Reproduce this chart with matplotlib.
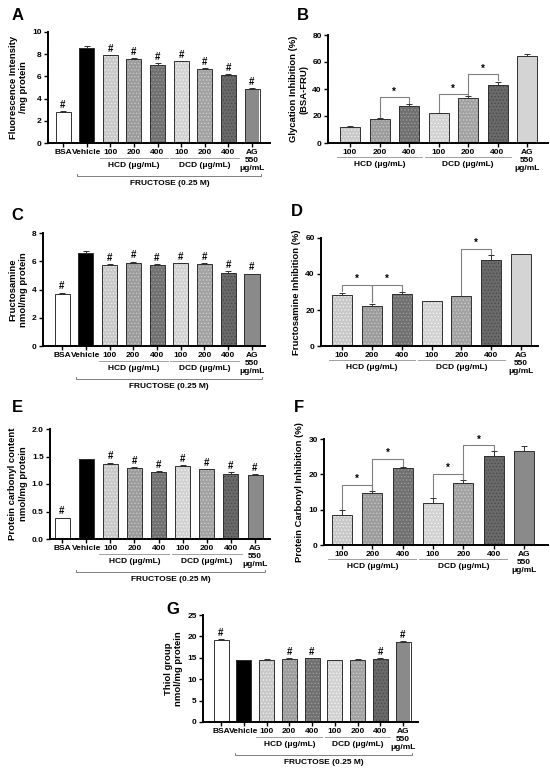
import numpy as np
import matplotlib
matplotlib.use('Agg')
import matplotlib.pyplot as plt
from matplotlib.transforms import blended_transform_factory

plt.rcParams['font.family'] = ['Liberation Sans', 'DejaVu Sans']
plt.rcParams['font.weight'] = 'bold'
plt.rcParams['hatch.linewidth'] = 0.6

# ---- data ----
full_labels = ['BSA', 'Vehicle', '100', '200', '400', '100', '200', '400', 'AG\n550\nμg/mL']
inh_labels = ['100', '200', '400', '100', '200', '400', 'AG\n550\nμg/mL']

fluor_vals = [2.8, 8.6, 7.9, 7.6, 7.05, 7.35, 6.65, 6.1, 4.85]
fluor_err = [0.1, 0.15, 0.05, 0.05, 0.15, 0.05, 0.1, 0.15, 0.06]
fluor_hash = [1, 0, 1, 1, 1, 1, 1, 1, 1]

glyc_inh = [12.2, 18.0, 27.2, 22.0, 33.5, 43.0, 64.2]
glyc_err = [0.5, 0.3, 2.0, 0.3, 1.0, 2.5, 1.5]
glyc_sig = [(1, 2, 34), (3, 4, 36), (4, 5, 51)]

fa_vals = [3.7, 6.55, 5.75, 5.9, 5.75, 5.85, 5.8, 5.2, 5.1]
fa_err = [0.08, 0.2, 0.05, 0.08, 0.05, 0.05, 0.05, 0.08, 0.03]
fa_hash = [1, 0, 1, 1, 1, 1, 1, 1, 1]

fa_inh = [28.5, 22.2, 28.8, 24.8, 27.7, 47.8, 51.0]
fa_inh_err = [1.2, 1.4, 1.2, 0.2, 0.2, 2.5, 0.3]
fa_sig = [(0, 1, 34), (1, 2, 34), (4, 5, 54)]

carb_vals = [0.38, 1.45, 1.36, 1.30, 1.22, 1.32, 1.27, 1.19, 1.16]
carb_err = [0.01, 0.01, 0.03, 0.01, 0.01, 0.02, 0.01, 0.02, 0.02]
carb_hash = [1, 0, 1, 1, 1, 1, 1, 1, 1]

carb_inh = [8.4, 14.6, 21.7, 11.9, 17.5, 25.1, 26.7]
carb_inh_err = [1.6, 0.7, 0.5, 1.4, 0.8, 1.6, 1.4]
carb_sig = [(0, 1, 17.1), (1, 2, 24.4), (3, 4, 20.2), (4, 5, 28.2)]

thiol_vals = [19.2, 14.4, 14.6, 14.75, 14.85, 14.55, 14.6, 14.8, 18.8]
thiol_err = [0.2, 0.1, 0.1, 0.1, 0.1, 0.05, 0.05, 0.1, 0.15]
thiol_hash = [1, 0, 0, 1, 1, 0, 0, 1, 1]

# bar styles: (face, hatch colour, hatch)
full_styles = [('white', 'white', None), ('black', 'black', None),
               ('#c8c8c8', '#eeeeee', '.....'), ('#9c9c9c', '#c4c4c4', '.....'),
               ('#707070', '#9a9a9a', '.....'), ('#d2d2d2', '#f2f2f2', '.....'),
               ('#a2a2a2', '#cacaca', '.....'), ('#6a6a6a', '#4a4a4a', '.....'),
               ('#8a8a8a', '#8a8a8a', None)]

W, H = 550, 770
fig = plt.figure(figsize=(5.5, 7.7), dpi=100)
YLAB = 6.8


def make_ax(box, n, first, last):
    l, r, t, b = box
    ax = fig.add_axes([l / W, 1 - b / H, (r - l) / W, (b - t) / H])
    u = (n - 1) / (last - first)
    ax.set_xlim(-(first - l) * u, n - 1 + (r - last) * u)
    for s in ['top', 'right']:
        ax.spines[s].set_visible(False)
    for s in ['left', 'bottom']:
        ax.spines[s].set_linewidth(1.4)
    ax.tick_params(width=1, length=3, labelsize=6, pad=1.5)
    return ax, u, b - t


def draw_bars(ax, vals, errs, styles, width):
    x = np.arange(len(vals))
    for i in x:
        face, hc, hatch = styles[i]
        ax.bar(i, vals[i], width, color=face, edgecolor=hc, hatch=hatch, linewidth=0)
    ax.bar(x, vals, width, fill=False, edgecolor='#303030', linewidth=0.7)
    ax.errorbar(x, vals, yerr=[np.zeros(len(vals)), errs], fmt='none',
                ecolor='#303030', elinewidth=0.7, capsize=2, capthick=0.7)


def add_hash(ax, vals, errs, flags, ymax):
    for i, f in enumerate(flags):
        if f:
            ax.text(i, vals[i] + errs[i] + ymax * 0.01, '#', ha='center', va='bottom',
                    fontsize=7, fontweight='bold')


def add_sig(ax, vals, errs, sigs, ymax):
    for a, b, h in sigs:
        ax.plot([a, a, b, b], [vals[a] + errs[a] + ymax * 0.01, h, h, vals[b] + errs[b] + ymax * 0.01],
                color='#808080', lw=0.8)
        ax.text((a + b) / 2, h + ymax * 0.005, '*', ha='center', va='bottom', fontsize=7)


def group_lines(ax, h, line_px, text_px, fructose=True, offset=0):
    tr = blended_transform_factory(ax.transData, ax.transAxes)
    for s, name in [(2, 'HCD (μg/mL)'), (5, 'DCD (μg/mL)')]:
        s = s - offset
        ax.plot([s - 0.45, s + 2.45], [-line_px / h] * 2, transform=tr, color='#a0a0a0',
                lw=0.7, clip_on=False)
        ax.text(s + 1, -text_px / h, name, transform=tr, ha='center', va='top', fontsize=6)
    if fructose:
        y = -(text_px + 14) / h
        ax.plot([0.6, 0.6, 8.4, 8.4], [y + 2 / h, y, y, y + 2 / h], transform=tr,
                color='#808080', lw=0.7, clip_on=False)
        ax.text(4.5, y - 4 / h, 'FRUCTOSE (0.25 M)', transform=tr, ha='center', va='top',
                fontsize=6)


def full_panel(box, first, last, vals, errs, flags, ymax, ticks, ylabel):
    ax, u, h = make_ax(box, 9, first, last)
    draw_bars(ax, vals, errs, full_styles, 15 * u)
    add_hash(ax, vals, errs, flags, ymax)
    ax.set_ylim(0, ymax)
    ax.set_yticks(ticks)
    ax.set_xticks(np.arange(9))
    ax.set_xticklabels(full_labels)
    ax.set_ylabel(ylabel, fontsize=YLAB, fontweight='bold', labelpad=3)
    group_lines(ax, h, 15, 19)
    return ax


def inh_panel(box, first, last, vals, errs, sigs, ymax, ticks, ylabel, ag_color):
    ax, u, h = make_ax(box, 7, first, last)
    styles = full_styles[2:8] + [(ag_color, ag_color, None)]
    draw_bars(ax, vals, errs, styles, 20 * u)
    add_sig(ax, vals, errs, sigs, ymax)
    ax.set_ylim(0, ymax)
    ax.set_yticks(ticks)
    ax.set_xticks(np.arange(7))
    ax.set_xticklabels(inh_labels)
    ax.set_ylabel(ylabel, fontsize=YLAB, fontweight='bold', labelpad=3)
    group_lines(ax, h, 14, 18, fructose=False, offset=2)
    return ax


full_panel((48, 270, 32, 143), 63, 252, fluor_vals, fluor_err, fluor_hash, 10,
           [0, 2, 4, 6, 8, 10], 'Fluorescence Intensity\n/mg protein')
inh_panel((328, 548, 35, 143), 350, 527, glyc_inh, glyc_err, glyc_sig, 80,
          [0, 20, 40, 60, 80], 'Glycation Inhibition (%)\n(BSA-FRU)', '#d4d4d4')
full_panel((43, 265, 233, 346), 62, 252, fa_vals, fa_err, fa_hash, 8,
           [0, 2, 4, 6, 8], 'Fructosamine\nnmol/mg protein')
inh_panel((321, 538, 238, 346), 342, 521, fa_inh, fa_inh_err, fa_sig, 60,
          [0, 20, 40, 60], 'Fructosamine Inhibition (%)', '#d4d4d4')
ax = full_panel((50, 270, 429, 539), 62, 255, carb_vals, carb_err, carb_hash, 2.0,
                [0, 0.5, 1.0, 1.5, 2.0], 'Protein carbonyl content\nnmol/mg protein')
ax.set_yticklabels(['0.0', '0.5', '1.0', '1.5', '2.0'])
inh_panel((324, 548, 439, 545), 342, 524, carb_inh, carb_inh_err, carb_sig, 30,
          [0, 10, 20, 30], 'Protein Carbonyl Inhibition (%)', '#8a8a8a')
full_panel((203, 418, 615, 722), 221, 403, thiol_vals, thiol_err, thiol_hash, 25,
           [0, 5, 10, 15, 20, 25], 'Thiol group\nnmol/mg protein')

for letter, px, py in [('A', 12, 15), ('B', 297, 15), ('C', 11, 215), ('D', 291, 211),
                       ('E', 12, 407), ('F', 294, 407), ('G', 166, 609)]:
    fig.text(px / W, 1 - py / H, letter, fontsize=12, fontweight='bold', ha='left', va='center')

fig.savefig('out.png', dpi=100)
